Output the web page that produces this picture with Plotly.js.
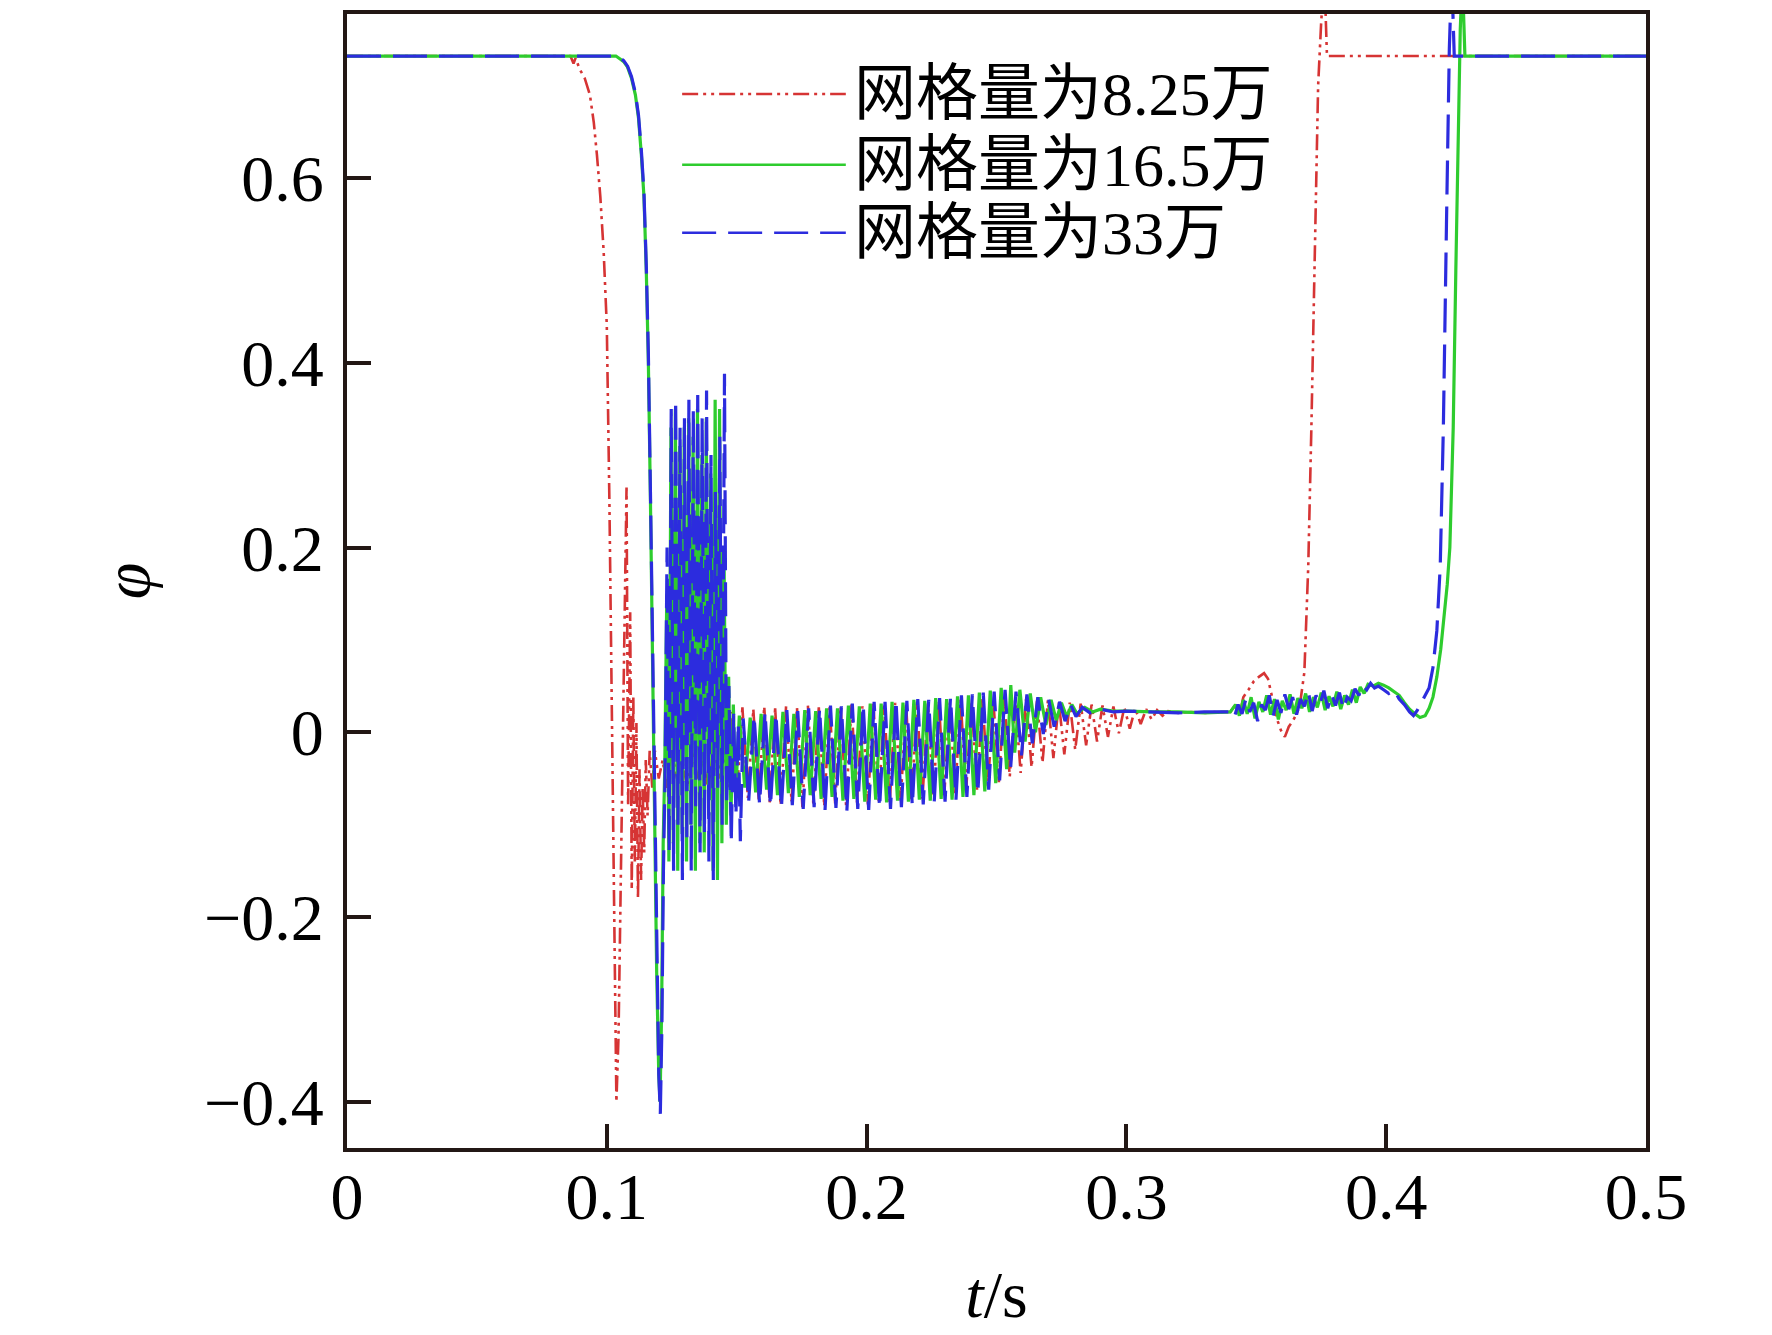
<!DOCTYPE html>
<html>
<head>
<meta charset="utf-8">
<script src="https://cdn.plot.ly/plotly-3.0.1.min.js"></script>
<style>
  body { margin: 0; background: #fff; }
  #plotGraph { width: 1772px; height: 1335px; }
</style>
</head>
<body>
<div id="plotGraph"></div>
<script>
// values: t in s, phi dimensionless
var seriesNames = ['网格量为8.25万', '网格量为16.5万', '网格量为33万'];

var tRed = [0, 0.086, 0.0872, 0.0880, 0.0895, 0.0915, 0.0935, 0.0950, 0.0962, 0.0975, 0.0988, 0.1000, 0.1010, 0.1020, 0.1030, 0.1037,
  0.1045, 0.1053, 0.1060, 0.1068, 0.1076, 0.1082, 0.1090, 0.1096, 0.1102, 0.1108, 0.1114, 0.1120, 0.1126, 0.1132, 0.1138, 0.1144,
  0.1150, 0.1157, 0.1165, 0.1175, 0.1185, 0.1200, 0.1215, 0.1230, 0.1250, 0.1270, 0.1290, 0.1310, 0.1330, 0.1350, 0.1370, 0.1390,
  0.1410, 0.1430, 0.1450, 0.1465,
  0.1480, 0.1501, 0.1522, 0.1543, 0.1564, 0.1585, 0.1606, 0.1627, 0.1648, 0.1669, 0.1690, 0.1711, 0.1732, 0.1753, 0.1774, 0.1795,
  0.1816, 0.1837, 0.1858, 0.1879, 0.1900, 0.1921, 0.1942, 0.1963, 0.1984, 0.2005, 0.2026, 0.2047, 0.2068, 0.2089, 0.2110, 0.2131,
  0.2152, 0.2173, 0.2194, 0.2215, 0.2236, 0.2257, 0.2278, 0.2299, 0.2320, 0.2341, 0.2362, 0.2383, 0.2404, 0.2425, 0.2446, 0.2467,
  0.2488, 0.2509, 0.2530, 0.2551, 0.2572, 0.2593, 0.2614, 0.2635, 0.2656, 0.2677, 0.2698, 0.2719, 0.2740, 0.2761, 0.2782, 0.2803,
  0.2824, 0.2845, 0.2866, 0.2887, 0.2908, 0.2929, 0.2950, 0.2971, 0.2992, 0.3013, 0.3034, 0.3055, 0.3076, 0.3097, 0.3118, 0.3139,
  0.3160, 0.3200, 0.3250, 0.3300, 0.3350, 0.3400, 0.3420, 0.3435, 0.3450, 0.3470, 0.3490, 0.3510, 0.3530, 0.3545, 0.3555, 0.3565,
  0.3580, 0.3595, 0.3610, 0.3625, 0.3640, 0.3655, 0.3668, 0.3685, 0.3700, 0.3712, 0.3725, 0.3738, 0.3750, 0.3762, 0.3772, 0.5];
var phiRed = [0.732, 0.732, 0.724, 0.730, 0.718, 0.708, 0.690, 0.660, 0.625, 0.580, 0.520, 0.440, 0.250, 0.000, -0.260, -0.400,
  -0.330, -0.180, -0.050, 0.080, 0.265, -0.080, 0.130, -0.170, 0.040, -0.140, 0.010, -0.180, -0.040, -0.160, -0.060, -0.130,
  -0.030, -0.090, -0.020, -0.060, -0.020, -0.050, -0.030, -0.060, -0.020, -0.050, -0.030, -0.060, -0.020, -0.050, -0.030, -0.060,
  -0.020, -0.050, -0.010, -0.060,
  0.022, -0.066, 0.027, -0.071, 0.025, -0.073, 0.028, -0.076, 0.026, -0.079, 0.028, -0.075, 0.027, -0.081, 0.029, -0.078,
  0.027, -0.080, 0.029, -0.077, 0.028, -0.079, 0.030, -0.076, 0.028, -0.078, 0.031, -0.075, 0.029, -0.077, 0.032, -0.074,
  0.030, -0.075, 0.033, -0.072, 0.031, -0.070, 0.034, -0.068, 0.032, -0.066, 0.035, -0.064, 0.033, -0.062, 0.036, -0.058,
  0.034, -0.054, 0.037, -0.048, 0.035, -0.044, 0.036, -0.038, 0.034, -0.033, 0.035, -0.028, 0.033, -0.024, 0.032, -0.019,
  0.031, -0.014, 0.030, -0.010, 0.029, -0.005, 0.028, -0.001, 0.027, 0.004, 0.026, 0.009, 0.025, 0.014, 0.024, 0.018,
  0.023, 0.021, 0.022, 0.021, 0.022, 0.022, 0.030, 0.018, 0.038, 0.046, 0.055, 0.060, 0.064, 0.058, 0.045, 0.030,
  0.014, 0.002, -0.005, 0.006, 0.012, 0.020, 0.030, 0.065, 0.180, 0.330, 0.530, 0.700, 0.770, 0.820, 0.732, 0.732];

var tGreen = [0, 0.1035, 0.1050, 0.1065, 0.1080, 0.1095, 0.1110, 0.1122, 0.1133, 0.1143, 0.1152, 0.1160, 0.1168, 0.1176, 0.1184, 0.1192,
  0.1200, 0.1205, 0.1211, 0.1217, 0.1223,
  0.1231, 0.1239, 0.1247, 0.1256, 0.1264, 0.1273, 0.1281, 0.1290, 0.1298, 0.1307, 0.1315, 0.1324, 0.1332, 0.1341, 0.1349, 0.1358,
  0.1366, 0.1375, 0.1383, 0.1392, 0.1400, 0.1409, 0.1417, 0.1426, 0.1434, 0.1443, 0.1451, 0.1460, 0.1469, 0.1478, 0.1487, 0.1496,
  0.1510, 0.1531, 0.1552, 0.1573, 0.1594, 0.1615, 0.1636, 0.1657, 0.1678, 0.1699, 0.1720, 0.1741, 0.1762, 0.1783, 0.1804, 0.1825,
  0.1846, 0.1867, 0.1888, 0.1909, 0.1930, 0.1951, 0.1972, 0.1993, 0.2014, 0.2035, 0.2056, 0.2077, 0.2098, 0.2119, 0.2140, 0.2161,
  0.2182, 0.2203, 0.2224, 0.2245, 0.2266, 0.2287, 0.2308, 0.2329, 0.2350, 0.2371, 0.2392, 0.2413, 0.2434, 0.2455, 0.2476, 0.2497,
  0.2518, 0.2539, 0.2555, 0.2570, 0.2590, 0.2610, 0.2630, 0.2650, 0.2670, 0.2690, 0.2710, 0.2730, 0.2750, 0.2770, 0.2790, 0.2810,
  0.2840, 0.2870, 0.2900, 0.2950, 0.3000, 0.3100, 0.3200, 0.3300, 0.3400,
  0.3420, 0.3435, 0.3450, 0.3465, 0.3480, 0.3495, 0.3510, 0.3525, 0.3540, 0.3555, 0.3570, 0.3585, 0.3600, 0.3615, 0.3630, 0.3645,
  0.3660, 0.3675, 0.3690, 0.3705, 0.3720, 0.3735, 0.3750, 0.3765, 0.3780, 0.3795, 0.3810, 0.3825, 0.3840, 0.3855, 0.3870, 0.3885,
  0.3900, 0.3915, 0.3930, 0.3950, 0.3970, 0.3990, 0.4010, 0.4030, 0.4050, 0.4070, 0.4090, 0.4110, 0.4130, 0.4150, 0.4165, 0.4180,
  0.4195, 0.4210, 0.4225, 0.4235, 0.4245, 0.4258, 0.4268, 0.4277, 0.4285, 0.4293, 0.4303, 0.5];
var phiGreen = [0.732, 0.732, 0.729, 0.726, 0.720, 0.708, 0.690, 0.665, 0.625, 0.580, 0.500, 0.400, 0.250, 0.080, -0.100, -0.260,
  -0.370, -0.400, -0.300, -0.120, -0.040,
  0.150, -0.140, 0.330, -0.120, 0.350, -0.150, 0.310, -0.110, 0.330, -0.140, 0.340, -0.100, 0.320, -0.150, 0.350, -0.120,
  0.300, -0.130, 0.340, -0.090, 0.280, -0.150, 0.360, -0.160, 0.350, -0.120, 0.200, -0.100, 0.060, -0.090, 0.030, -0.070,
  0.018, -0.060, 0.016, -0.065, 0.020, -0.062, 0.018, -0.068, 0.022, -0.066, 0.020, -0.070, 0.024, -0.068, 0.023, -0.072,
  0.026, -0.070, 0.026, -0.074, 0.029, -0.072, 0.028, -0.075, 0.031, -0.073, 0.031, -0.076, 0.033, -0.074, 0.032, -0.075,
  0.035, -0.073, 0.034, -0.074, 0.037, -0.072, 0.036, -0.073, 0.039, -0.070, 0.040, -0.068, 0.043, -0.064, 0.045, -0.055,
  0.048, -0.040, 0.051, -0.022, 0.046, -0.010, 0.042, 0.000, 0.038, 0.008, 0.035, 0.013, 0.032, 0.017, 0.030, 0.020,
  0.027, 0.022, 0.025, 0.023, 0.023, 0.022, 0.022, 0.021, 0.022,
  0.030, 0.018, 0.035, 0.020, 0.038, 0.015, 0.033, 0.022, 0.040, 0.019, 0.036, 0.014, 0.034, 0.024, 0.041, 0.020,
  0.037, 0.026, 0.042, 0.022, 0.038, 0.027, 0.043, 0.024, 0.039, 0.028, 0.044, 0.025, 0.040, 0.030, 0.046, 0.032,
  0.049, 0.042, 0.052, 0.050, 0.053, 0.051, 0.048, 0.044, 0.040, 0.032, 0.025, 0.020, 0.016, 0.018, 0.026, 0.038,
  0.060, 0.090, 0.130, 0.160, 0.200, 0.330, 0.500, 0.650, 0.760, 0.820, 0.732, 0.732];

var tBlue = [0, 0.1040, 0.1050, 0.1065, 0.1080, 0.1095, 0.1110, 0.1122, 0.1133, 0.1143, 0.1152, 0.1160, 0.1168, 0.1176, 0.1184, 0.1192,
  0.1200, 0.1206, 0.1212, 0.1218, 0.1224,
  0.1232, 0.1240, 0.1248, 0.1257, 0.1265, 0.1274, 0.1282, 0.1291, 0.1299, 0.1308, 0.1316, 0.1325, 0.1333, 0.1342, 0.1350, 0.1359,
  0.1367, 0.1376, 0.1384, 0.1393, 0.1401, 0.1410, 0.1418, 0.1427, 0.1435, 0.1444, 0.1453, 0.1461, 0.1470, 0.1479, 0.1488, 0.1497,
  0.1506, 0.1514, 0.1525,
  0.1546, 0.1567, 0.1588, 0.1609, 0.1630, 0.1651, 0.1672, 0.1693, 0.1714, 0.1735, 0.1756, 0.1777, 0.1798, 0.1819, 0.1840, 0.1861,
  0.1882, 0.1903, 0.1924, 0.1945, 0.1966, 0.1987, 0.2008, 0.2029, 0.2050, 0.2071, 0.2092, 0.2113, 0.2134, 0.2155, 0.2176, 0.2197,
  0.2218, 0.2239, 0.2260, 0.2281, 0.2302, 0.2323, 0.2344, 0.2365, 0.2386, 0.2407, 0.2428, 0.2449, 0.2470, 0.2491, 0.2512, 0.2533,
  0.2554, 0.2575, 0.2596, 0.2617, 0.2638, 0.2659, 0.2680, 0.2701, 0.2722, 0.2743, 0.2764, 0.2785, 0.2806, 0.2830, 0.2860, 0.2900,
  0.2950, 0.3000, 0.3100, 0.3200, 0.3300, 0.3400,
  0.3415, 0.3430, 0.3445, 0.3460, 0.3475, 0.3490, 0.3505, 0.3520, 0.3535, 0.3550, 0.3565, 0.3580, 0.3595, 0.3610, 0.3625, 0.3640,
  0.3655, 0.3670, 0.3685, 0.3700, 0.3715, 0.3730, 0.3745, 0.3760, 0.3775, 0.3790, 0.3805, 0.3820, 0.3835, 0.3850, 0.3865, 0.3880,
  0.3895, 0.3910, 0.3925, 0.3940, 0.3955, 0.3970, 0.3990, 0.4010, 0.4030, 0.4050, 0.4070, 0.4090, 0.4105, 0.4120, 0.4135, 0.4150,
  0.4165, 0.4180, 0.4195, 0.4208, 0.4220, 0.4232, 0.4243, 0.4252, 0.4262, 0.5];
var phiBlue = [0.732, 0.732, 0.730, 0.727, 0.721, 0.710, 0.692, 0.668, 0.630, 0.585, 0.505, 0.410, 0.260, 0.090, -0.090, -0.250,
  -0.370, -0.413, -0.320, -0.150, -0.050,
  0.200, -0.130, 0.350, -0.150, 0.360, -0.100, 0.330, -0.160, 0.340, -0.120, 0.360, -0.150, 0.350, -0.080, 0.365, -0.130,
  0.340, -0.110, 0.370, -0.140, 0.300, -0.160, 0.260, -0.060, 0.320, -0.100, 0.388, -0.080, 0.050, -0.120, 0.020, -0.090,
  0.010, -0.118, 0.015,
  -0.075, 0.018, -0.078, 0.022, -0.080, 0.020, -0.082, 0.024, -0.079, 0.023, -0.083, 0.026, -0.081, 0.026, -0.084, 0.029,
  -0.082, 0.028, -0.085, 0.031, -0.083, 0.030, -0.084, 0.033, -0.082, 0.033, -0.083, 0.035, -0.081, 0.034, -0.080, 0.036,
  -0.078, 0.035, -0.077, 0.037, -0.075, 0.038, -0.073, 0.040, -0.070, 0.041, -0.066, 0.043, -0.062, 0.044, -0.052, 0.046,
  -0.040, 0.044, -0.025, 0.041, -0.012, 0.038, -0.002, 0.035, 0.006, 0.033, 0.012, 0.030, 0.017, 0.027, 0.021, 0.025,
  0.022, 0.023, 0.022, 0.021, 0.022, 0.022,
  0.016, 0.030, 0.020, 0.036, 0.022, 0.032, 0.012, 0.030, 0.024, 0.040, 0.018, 0.035, 0.021, 0.041, 0.025, 0.038,
  0.019, 0.036, 0.028, 0.044, 0.023, 0.040, 0.030, 0.045, 0.026, 0.041, 0.029, 0.043, 0.025, 0.038, 0.034, 0.047,
  0.040, 0.051, 0.046, 0.053, 0.048, 0.050, 0.046, 0.042, 0.046, 0.036, 0.030, 0.022, 0.018, 0.024, 0.032, 0.040,
  0.048, 0.070, 0.110, 0.180, 0.330, 0.550, 0.740, 0.820, 0.732, 0.732];

var xTicks = [0, 0.1, 0.2, 0.3, 0.4, 0.5];
var xTickText = ['0', '0.1', '0.2', '0.3', '0.4', '0.5'];
var yTicks = [-0.4, -0.2, 0, 0.2, 0.4, 0.6];
var yTickText = ['\u22120.4', '\u22120.2', '0', '0.2', '0.4', '0.6'];

var colors = ['rgb(214,52,52)', 'rgb(46,204,46)', 'rgb(44,44,222)'];
var dashes = ['16px,5px,3px,5px,3px,5px', 'solid', '34px,12px'];
var widths = [2.6, 3.2, 3.2];

var tData = [tRed, tGreen, tBlue];
var phiData = [phiRed, phiGreen, phiBlue];

var data = [];
var shapes = [];
var annotations = [];
var legendRowY = [0.9295, 0.867, 0.807];
for (var i = 0; i < 3; i++) {
    data.push({
        x: tData[i],
        y: phiData[i],
        type: 'scatter',
        mode: 'lines',
        name: seriesNames[i],
        line: {color: colors[i], width: widths[i], dash: dashes[i]},
        showlegend: false
    });
    // legend drawn by hand so the sample lines can be long like the original
    shapes.push({
        type: 'line', xref: 'paper', yref: 'paper',
        x0: 0.258, x1: 0.384, y0: legendRowY[i], y1: legendRowY[i],
        line: {color: colors[i], width: 2.5, dash: dashes[i]}
    });
    annotations.push({
        xref: 'paper', yref: 'paper', x: 0.389, y: legendRowY[i],
        xanchor: 'left', yanchor: 'middle', showarrow: false,
        text: seriesNames[i],
        font: {family: 'Liberation Serif, Noto Sans CJK SC', size: 62, color: '#000'}
    });
}

var axisFont = {family: 'Liberation Serif, Times New Roman, serif', size: 66, color: '#000'};
var layout = {
    width: 1772,
    height: 1335,
    margin: {l: 347, r: 126, t: 14, b: 187},
    paper_bgcolor: '#fff',
    plot_bgcolor: '#fff',
    showlegend: false,
    xaxis: {
        range: [0, 0.5],
        tickvals: xTicks,
        ticktext: xTickText,
        ticks: 'inside',
        ticklen: 24,
        tickwidth: 4,
        tickcolor: '#231815',
        showline: true,
        linewidth: 4,
        linecolor: '#231815',
        mirror: true,
        showgrid: false,
        zeroline: false,
        tickfont: axisFont,
        ticklabelstandoff: -12,
        title: {text: '<i>t</i>/s', font: axisFont, standoff: 40}
    },
    yaxis: {
        range: [-0.45, 0.7775],
        tickvals: yTicks,
        ticktext: yTickText,
        ticks: 'inside',
        ticklen: 24,
        tickwidth: 4,
        tickcolor: '#231815',
        showline: true,
        linewidth: 4,
        linecolor: '#231815',
        mirror: true,
        showgrid: false,
        zeroline: false,
        tickfont: axisFont,
        ticklabelstandoff: 6,
        title: {text: '<i>φ</i>', font: axisFont, standoff: 34}
    },
    shapes: shapes,
    annotations: annotations
};

Plotly.newPlot('plotGraph', data, layout, {displayModeBar: false, staticPlot: true});
</script>
</body>
</html>
